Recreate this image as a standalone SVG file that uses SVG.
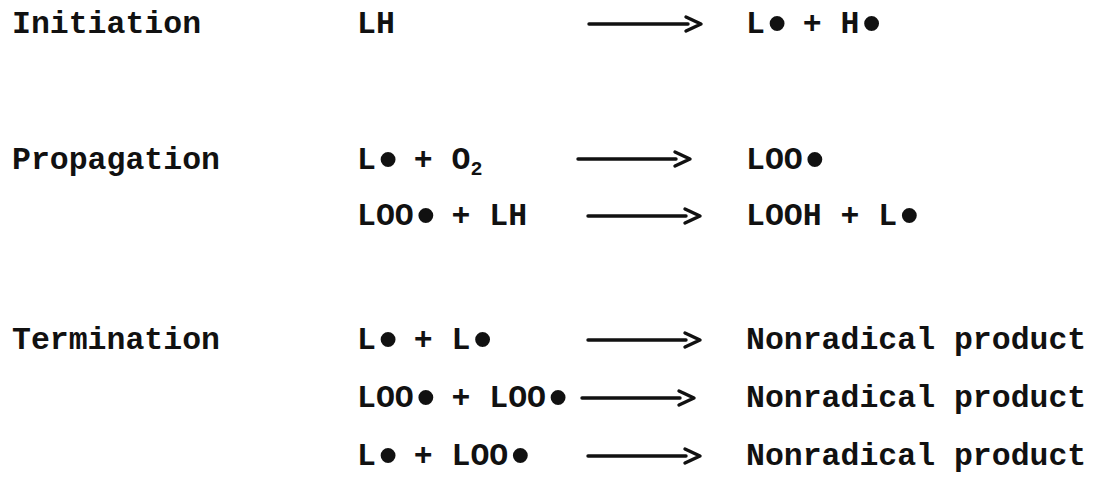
<svg xmlns="http://www.w3.org/2000/svg" width="1096" height="484" viewBox="0 0 1096 484">
  <style>
    .t { font-family: "Liberation Mono", "Courier New", monospace; font-weight: bold; font-size: 31.5px; fill: #111; }
    .b { font-size: 52px; }
    .sub { font-size: 20px; }
    .arrow line, .arrow polyline { stroke: #111; stroke-width: 3.4; fill: none; stroke-linecap: round; stroke-linejoin: round; }
  </style>
  <rect width="1096" height="484" fill="#fff"/>

  <!-- stage labels -->
  <g id="labels">
    <text class="t" x="12" y="33">Initiation</text>
    <text class="t" x="12" y="169">Propagation</text>
    <text class="t" x="12" y="349">Termination</text>
  </g>

  <!-- reactants (monospace grid, 18.9px per cell; radical dots set as larger bullets) -->
  <g id="r1"><text class="t" x="357" y="33">LH</text></g>
  <g id="r2"><text class="t" x="357" y="169">L<tspan class="b" x="372.5" dy="8.2">•</tspan><tspan x="394.8" dy="-8.2"> + O</tspan><tspan class="sub" dy="6">2</tspan></text></g>
  <g id="r3"><text class="t" x="357" y="225">LOO<tspan class="b" x="410.3" dy="8.2">•</tspan><tspan x="432.6" dy="-8.2"> + LH</tspan></text></g>
  <g id="r4"><text class="t" x="357" y="349">L<tspan class="b" x="372.5" dy="8.2">•</tspan><tspan x="394.8" dy="-8.2"> + L</tspan><tspan class="b" x="467" dy="8.2">•</tspan></text></g>
  <g id="r5"><text class="t" x="357" y="407">LOO<tspan class="b" x="410.3" dy="8.2">•</tspan><tspan x="432.6" dy="-8.2"> + LOO</tspan><tspan class="b" x="542.6" dy="8.2">•</tspan></text></g>
  <g id="r6"><text class="t" x="357" y="465">L<tspan class="b" x="372.5" dy="8.2">•</tspan><tspan x="394.8" dy="-8.2"> + LOO</tspan><tspan class="b" x="504.8" dy="8.2">•</tspan></text></g>

  <!-- reaction arrows -->
  <g id="connectors" class="arrow">
    <line x1="589" y1="24" x2="688" y2="24"/><polyline points="686,17 701,24 686,31"/>
    <line x1="578" y1="159" x2="676" y2="159"/><polyline points="675,152 690,159 675,166"/>
    <line x1="588" y1="216" x2="686" y2="216"/><polyline points="685,209 700,216 685,223"/>
    <line x1="588" y1="340" x2="686" y2="340"/><polyline points="685,333 700,340 685,347"/>
    <line x1="582" y1="398" x2="680" y2="398"/><polyline points="679,391 694,398 679,405"/>
    <line x1="588" y1="456" x2="686" y2="456"/><polyline points="685,449 700,456 685,463"/>
  </g>

  <!-- products -->
  <g id="p1"><text class="t" x="746" y="33">L<tspan class="b" x="761.5" dy="8.2">•</tspan><tspan x="783.8" dy="-8.2"> + H</tspan><tspan class="b" x="856" dy="8.2">•</tspan></text></g>
  <g id="p2"><text class="t" x="746" y="169">LOO<tspan class="b" x="799.3" dy="8.2">•</tspan></text></g>
  <g id="p3"><text class="t" x="746" y="225">LOOH + L<tspan class="b" x="893.8" dy="8.2">•</tspan></text></g>
  <g id="p4"><text class="t" x="746" y="349">Nonradical product</text></g>
  <g id="p5"><text class="t" x="746" y="407">Nonradical product</text></g>
  <g id="p6"><text class="t" x="746" y="465">Nonradical product</text></g>
</svg>
